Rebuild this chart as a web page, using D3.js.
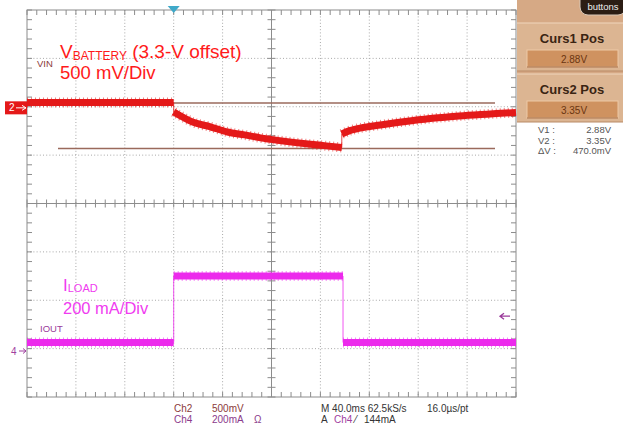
<!DOCTYPE html>
<html><head><meta charset="utf-8">
<script src="https://cdn.jsdelivr.net/npm/d3@7"></script>
<style>body{margin:0;background:#fff}svg{display:block}text{font-family:"Liberation Sans",Arial,sans-serif}</style>
</head><body><svg id="c" width="623" height="428"></svg>
<script>
// ---- data (time in ms relative to trigger) ----
const vinTime  = [-120, 0, 0, 5, 16, 30, 44, 58, 71, 85, 98, 112, 125, 137.5, 137.5, 144, 155, 169, 183, 196, 210, 224, 237, 251, 264, 280];
const vinVolts = [3.355, 3.355, 3.257, 3.221, 3.150, 3.104, 3.050, 3.020, 2.990, 2.964, 2.943, 2.923, 2.907, 2.890, 3.030, 3.064, 3.097, 3.123, 3.148, 3.169, 3.190, 3.205, 3.219, 3.230, 3.241, 3.252];
const ioutTime = [-120, 0, 0, 138.5, 138.5, 280];
const ioutMilliamps = [35, 35, 310, 310, 35, 35];
const cursorVolts = [3.35, 2.88];
const cursorTitles = ["Curs1 Pos", "Curs2 Pos"];
const cursorValues = ["2.88V", "3.35V"];
const readoutLabels = ["V1 :", "V2 :", "ΔV :"];
const readoutValues = ["2.88V", "3.35V", "470.0mV"];
const triggerLevel = 144; // mA
const timeTicks = d3.range(-120, 281, 40);
const rowTicks = d3.range(0, 9, 1);

const svg = d3.select("#c");
const L = 27, R = 516, T = 10, B = 397;
const x = d3.scaleLinear().domain([-120, 280]).range([L, R]);
const row = d3.scaleLinear().domain([0, 8]).range([T, B]);
const divY = (B - T) / 8, divX = (R - L) / 10;
const yV = d3.scaleLinear().domain([3.35, 2.85]).range([103, 103 + divY]);
const yI = d3.scaleLinear().domain([0, 200]).range([351, 351 - divY]);

svg.append("rect").attr("width", 623).attr("height", 428).attr("fill", "#fff");

// ---- graticule ----
const g = svg.append("g");
const gridCol = "#a8a8a8";
g.selectAll(".vg").data(timeTicks.slice(1, -1)).join("line")
  .attr("x1", d => x(d)).attr("x2", d => x(d)).attr("y1", T).attr("y2", B)
  .attr("stroke", gridCol).attr("stroke-width", 1).attr("stroke-dasharray", "1 2.2");
g.selectAll(".hg").data(rowTicks.slice(1, -1)).join("line")
  .attr("y1", d => row(d)).attr("y2", d => row(d)).attr("x1", L).attr("x2", R)
  .attr("stroke", gridCol).attr("stroke-width", 1).attr("stroke-dasharray", "1 2.2");

const axCol = "#8c8c8c";
const minorX = d3.range(0, 51).map(i => L + i * divX / 5);
const minorY = d3.range(0, 41).map(i => T + i * divY / 5);
const cx = x(80), cy = row(4);
g.append("line").attr("x1", L).attr("x2", R).attr("y1", cy).attr("y2", cy).attr("stroke", axCol);
g.append("line").attr("x1", cx).attr("x2", cx).attr("y1", T).attr("y2", B).attr("stroke", axCol);
g.selectAll(".cxt").data(minorX).join("line")
  .attr("x1", d => d).attr("x2", d => d).attr("y1", cy - 4).attr("y2", cy + 4).attr("stroke", axCol);
g.selectAll(".cyt").data(minorY).join("line")
  .attr("y1", d => d).attr("y2", d => d).attr("x1", cx - 4).attr("x2", cx + 4).attr("stroke", axCol);
g.selectAll(".tt").data(minorX).join("line")
  .attr("x1", d => d).attr("x2", d => d).attr("y1", T).attr("y2", T + 5).attr("stroke", axCol);
g.selectAll(".bt").data(minorX).join("line")
  .attr("x1", d => d).attr("x2", d => d).attr("y1", B - 5).attr("y2", B).attr("stroke", axCol);
g.selectAll(".lt").data(minorY).join("line")
  .attr("y1", d => d).attr("y2", d => d).attr("x1", L).attr("x2", L + 5).attr("stroke", axCol);
g.selectAll(".rt").data(minorY).join("line")
  .attr("y1", d => d).attr("y2", d => d).attr("x1", R - 5).attr("x2", R).attr("stroke", axCol);
g.append("rect").attr("x", L).attr("y", T).attr("width", R - L).attr("height", B - T)
  .attr("fill", "none").attr("stroke", axCol);

// ---- cursors ----
svg.selectAll(".cur").data(cursorVolts).join("line")
  .attr("x1", 58).attr("x2", 495).attr("y1", d => yV(d)).attr("y2", d => yV(d))
  .attr("stroke", "#9a6a5c").attr("stroke-width", 1.6);

// ---- traces ----
function drawTrace(ts, vs, yScale, color, width, curve) {
  const pts = ts.map((t, i) => [x(t), yScale(vs[i])]);
  const segs = []; let cur = [pts[0]];
  for (let i = 1; i < pts.length; i++) {
    if (ts[i] === ts[i - 1]) { segs.push(cur); cur = [pts[i]]; } else cur.push(pts[i]);
  }
  segs.push(cur);
  const thin = d3.line();
  const line = d3.line().curve(curve);
  svg.append("path").attr("d", thin(pts)).attr("fill", "none").attr("stroke", color).attr("stroke-width", 1).attr("opacity", 0.8);
  segs.forEach(s => {
    svg.append("path").attr("d", line(s)).attr("fill", "none").attr("stroke", color)
      .attr("stroke-width", width + 3).attr("stroke-dasharray", "1 3").attr("opacity", 0.55);
    svg.append("path").attr("d", line(s)).attr("fill", "none").attr("stroke", color)
      .attr("stroke-width", width);
  });
}
drawTrace(vinTime, vinVolts, yV, "#e41919", 7, d3.curveMonotoneX);
drawTrace(ioutTime, ioutMilliamps, yI, "#ec2aec", 7, d3.curveLinear);

// ---- markers ----
svg.append("path").attr("d", `M${x(0) - 6},6 L${x(0) + 6},6 L${x(0)},13 Z`).attr("fill", "#3fa9c9");
svg.append("rect").attr("x", 5).attr("y", yV(3.3) - 6.5).attr("width", L - 5).attr("height", 13).attr("fill", "#e41919");
svg.append("text").attr("x", 9).attr("y", yV(3.3) + 3.5).attr("font-size", 10).attr("fill", "#fff").text("2");
svg.append("path").attr("d", `M16,${yV(3.3)} L26,${yV(3.3)} M22,${yV(3.3) - 2.5} L26,${yV(3.3)} L22,${yV(3.3) + 2.5}`)
  .attr("stroke", "#fff").attr("fill", "none");
svg.append("text").attr("x", 11).attr("y", yI(0) + 4).attr("font-size", 10).attr("fill", "#a040a0").text("4");
svg.append("path").attr("d", `M19,${yI(0)} L26,${yI(0)} M23,${yI(0) - 2.5} L26,${yI(0)} L23,${yI(0) + 2.5}`)
  .attr("stroke", "#a040a0").attr("fill", "none");
svg.append("path").attr("d", `M500,${yI(triggerLevel)} L510,${yI(triggerLevel)} M504,${yI(triggerLevel) - 3} L500,${yI(triggerLevel)} L504,${yI(triggerLevel) + 3}`)
  .attr("stroke", "#9a3a9a").attr("stroke-width", 1.3).attr("fill", "none");

// ---- annotations ----
const vb = svg.append("text").attr("x", 60).attr("y", 58).attr("fill", "#ff1a1a").attr("font-size", 19);
vb.append("tspan").text("V");
vb.append("tspan").attr("font-size", 12).attr("dy", 2).text("BATTERY");
vb.append("tspan").attr("dy", -2).text(" (3.3-V offset)");
svg.append("text").attr("x", 60).attr("y", 79).attr("fill", "#ff1a1a").attr("font-size", 18.5).text("500 mV/Div");
svg.append("text").attr("x", 37).attr("y", 67).attr("fill", "#8b3a3a").attr("font-size", 9.5).text("VIN");

const il = svg.append("text").attr("x", 63).attr("y", 291).attr("fill", "#f03cf0").attr("font-size", 17);
il.append("tspan").text("I");
il.append("tspan").attr("font-size", 11).attr("dy", 1).text("LOAD");
svg.append("text").attr("x", 63).attr("y", 314).attr("fill", "#f03cf0").attr("font-size", 16.5).text("200 mA/Div");
svg.append("text").attr("x", 40).attr("y", 332).attr("fill", "#9a3a9a").attr("font-size", 9.5).text("IOUT");

// ---- bottom readout ----
const bt = (xx, yy, s, c) => svg.append("text").attr("x", xx).attr("y", yy).attr("font-size", 10).attr("fill", c).text(s);
bt(174, 412, "Ch2", "#8b3a3a"); bt(212, 412, "500mV", "#8b3a3a");
bt(174, 423, "Ch4", "#8b3a8b"); bt(212, 423, "200mA", "#8b3a8b"); bt(254, 423, "Ω", "#8b3a8b");
bt(321, 412, "M 40.0ms 62.5kS/s", "#333"); bt(427, 412, "16.0µs/pt", "#333");
bt(321, 423, "A", "#333"); bt(334, 423, "Ch4", "#a040a0"); bt(355, 423, "⁄", "#333"); bt(364, 423, "144mA", "#333");

// ---- right panel ----
const P = svg.append("g");
P.append("rect").attr("x", 517).attr("y", 0).attr("width", 106).attr("height", 122).attr("fill", "#d6a985");
P.append("rect").attr("x", 580).attr("y", -10).attr("width", 46).attr("height", 25).attr("rx", 8)
  .attr("fill", "#2b1d14").attr("stroke", "#d8c8b8");
P.append("text").attr("x", 603).attr("y", 10).attr("text-anchor", "middle").attr("font-size", 9.5).attr("fill", "#eee").text("buttons");
[0, 1].forEach(i => {
  const y0 = 23 + i * 51;
  P.append("rect").attr("x", 517).attr("y", y0).attr("width", 106).attr("height", 48).attr("fill", "#dcb592");
  P.append("line").attr("x1", 517).attr("x2", 623).attr("y1", y0).attr("y2", y0).attr("stroke", "#f0d6bc");
  P.append("line").attr("x1", 517).attr("x2", 623).attr("y1", y0 + 48).attr("y2", y0 + 48).attr("stroke", "#b98a66");
  P.append("text").attr("x", 572).attr("y", y0 + 20).attr("text-anchor", "middle").attr("font-size", 13)
    .attr("font-weight", "bold").attr("fill", "#3a2412").text(cursorTitles[i]);
  P.append("rect").attr("x", 527).attr("y", y0 + 27).attr("width", 91).attr("height", 17)
    .attr("fill", "#cf9260").attr("stroke", "#edc9a6");
  P.append("line").attr("x1", 527).attr("x2", 618).attr("y1", y0 + 44).attr("y2", y0 + 44).attr("stroke", "#a56d45");
  P.append("text").attr("x", 574).attr("y", y0 + 40).attr("text-anchor", "middle").attr("font-size", 10)
    .attr("fill", "#6a3510").text(cursorValues[i]);
});
readoutLabels.forEach((s, i) => {
  P.append("text").attr("x", 538).attr("y", 133 + i * 10.5).attr("font-size", 9.5).attr("fill", "#555").text(s);
  P.append("text").attr("x", 611).attr("y", 133 + i * 10.5).attr("text-anchor", "end").attr("font-size", 9.5).attr("fill", "#555").text(readoutValues[i]);
});
</script></body></html>
